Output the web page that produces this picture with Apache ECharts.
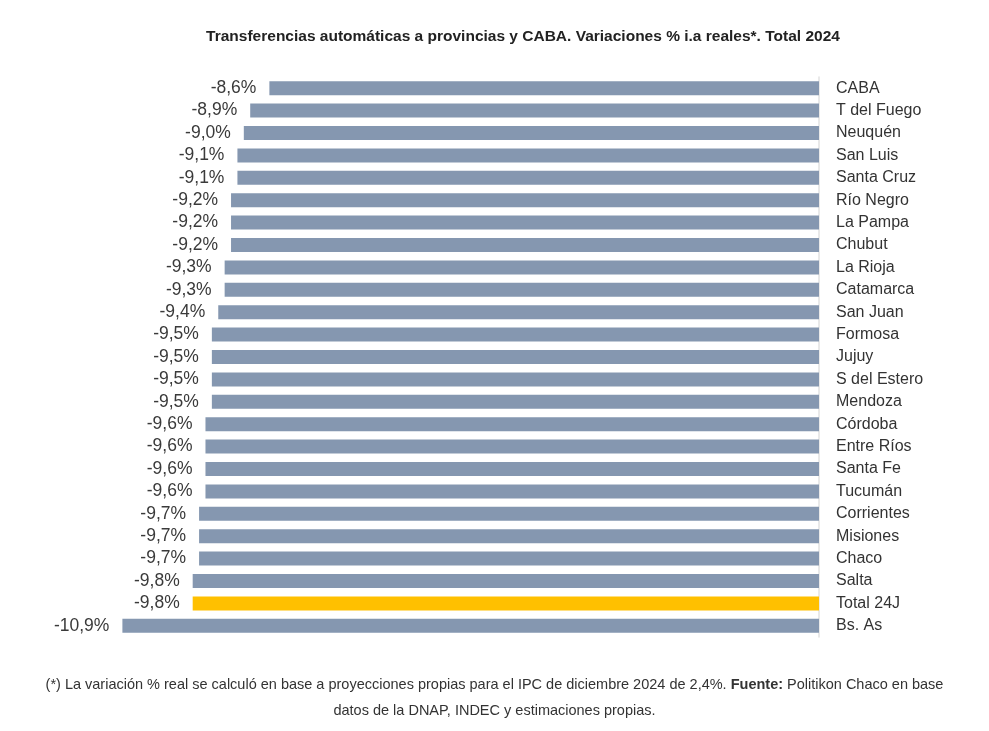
<!doctype html>
<html lang="es">
  <head>
    <meta charset="utf-8">
    <title>Transferencias automáticas a provincias y CABA</title>
    <script src="https://cdn.jsdelivr.net/npm/echarts@6.0.0/dist/echarts.min.js"></script>
    <style>
      html, body { margin: 0; padding: 0; background: #fff; }
      #chart { width: 989px; height: 731px; }
    </style>
  </head>
  <body>
    <div id="chart"></div>
    <script>
    // datos
    var provincias = ['CABA', 'T del Fuego', 'Neuquén', 'San Luis', 'Santa Cruz', 'Río Negro', 'La Pampa',
      'Chubut', 'La Rioja', 'Catamarca', 'San Juan', 'Formosa', 'Jujuy', 'S del Estero', 'Mendoza',
      'Córdoba', 'Entre Ríos', 'Santa Fe', 'Tucumán', 'Corrientes', 'Misiones', 'Chaco', 'Salta',
      'Total 24J', 'Bs. As'];
    var variaciones = [-8.6, -8.9, -9.0, -9.1, -9.1, -9.2, -9.2, -9.2, -9.3, -9.3, -9.4, -9.5, -9.5,
      -9.5, -9.5, -9.6, -9.6, -9.6, -9.6, -9.7, -9.7, -9.7, -9.8, -9.8, -10.9];
    var destacado = 'Total 24J';

    var colorBarra = '#8597b0';
    var colorTotal = '#ffc000';

    var chart = echarts.init(document.getElementById('chart'), null, { renderer: 'canvas' });

    var option = {
      backgroundColor: '#fff',
      animation: false,
      title: {
        text: 'Transferencias automáticas a provincias y CABA. Variaciones % i.a reales*. Total 2024',
        left: 518,
        top: 24,
        textAlign: 'center',
        textStyle: { fontFamily: 'Liberation Sans, Arial, sans-serif', fontSize: 15.5, fontWeight: 'bold', color: '#222' }
      },
      grid: { left: 116, right: 170, top: 77, bottom: 94 },
      xAxis: {
        type: 'value',
        min: -11,
        max: 0,
        show: false
      },
      yAxis: {
        type: 'category',
        data: provincias,
        inverse: true,
        position: 'right',
        axisLine: { show: true, lineStyle: { color: '#e2e2e2', width: 1.5 } },
        axisTick: { show: false },
        axisLabel: {
          margin: 17,
          fontFamily: 'Liberation Sans, Arial, sans-serif',
          fontSize: 16,
          color: '#333'
        }
      },
      series: [
        {
          type: 'bar',
          data: variaciones.map(function (v, i) {
            return {
              value: v,
              itemStyle: { color: provincias[i] === destacado ? colorTotal : colorBarra }
            };
          }),
          barWidth: 14,
          label: {
            show: true,
            position: 'left',
            distance: 13,
            fontFamily: 'Liberation Sans, Arial, sans-serif',
            fontSize: 17.5,
            color: '#3a3a3a',
            formatter: function (p) {
              return p.value.toFixed(1).replace('.', ',') + '%';
            }
          }
        }
      ],
      graphic: [
        {
          type: 'text',
          left: 'center',
          top: 677,
          style: {
            text: '(*) La variación % real se calculó en base a proyecciones propias para el IPC de diciembre 2024 de 2,4%. {b|Fuente:} Politikon Chaco en base',
            font: '14.5px "Liberation Sans", Arial, sans-serif',
            fill: '#333',
            rich: { b: { fontWeight: 'bold', fontSize: 14.5, fill: '#333' } }
          }
        },
        {
          type: 'text',
          left: 'center',
          top: 703,
          style: {
            text: 'datos de la DNAP, INDEC y estimaciones propias.',
            font: '14.5px "Liberation Sans", Arial, sans-serif',
            fill: '#333'
          }
        }
      ]
    };

    chart.setOption(option);
    </script>
  </body>
</html>
